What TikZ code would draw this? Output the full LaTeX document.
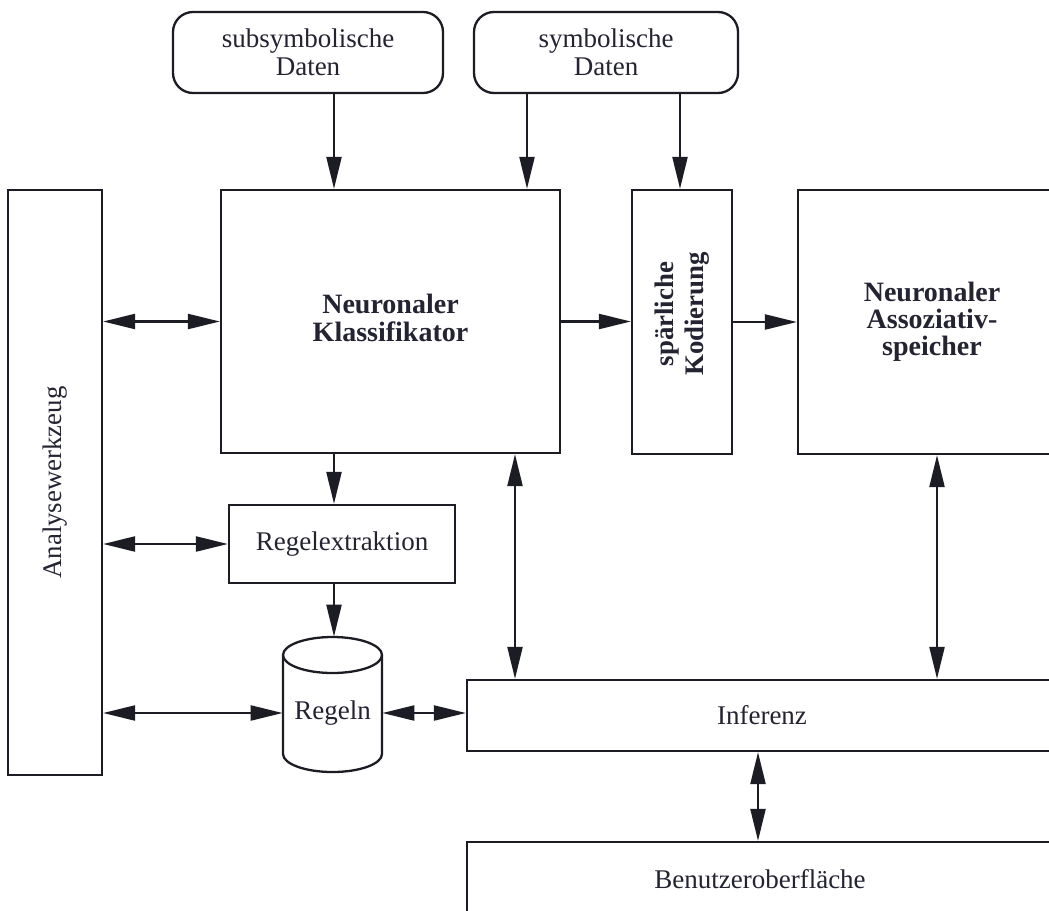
\documentclass[tikz,border=0pt]{standalone}
\usepackage{fontspec}
\setmainfont{Liberation Serif}
\usetikzlibrary{arrows.meta}
\definecolor{ink}{RGB}{28,28,36}
\definecolor{txt}{RGB}{35,35,50}
\begin{document}
\begin{tikzpicture}[x=0.5pt,y=-0.5pt,
  every node/.style={text=txt, font=\fontsize{13.5}{14}\selectfont},
  box/.style={draw=ink, line width=1.15pt, fill=white, inner sep=0pt, align=center},
  rbox/.style={box, rounded corners=10pt},
  tip/.tip={Triangle[length=16pt,width=7.5pt]},
  arr/.style={draw=ink, line width=1.15pt, -tip},
  dbl/.style={draw=ink, line width=1.15pt, tip-tip},
  bf/.style={font=\bfseries\fontsize{14}{14}\selectfont},
  cyl/.style={draw=ink, line width=1.15pt, fill=white}
]
\useasboundingbox (0,0) rectangle (1049,910);
\fill[white] (0,0) rectangle (1049,910);
\clip (0,0) rectangle (1049,910);

% nodes
\node[rbox, minimum width=135pt, minimum height=40.5pt] (sub) at (308,52.5) {subsymbolische\\Daten};
\node[rbox, minimum width=132pt, minimum height=40.5pt] (sym) at (606,52.5) {symbolische\\Daten};
\node[box, minimum width=47pt, minimum height=292.5pt] (ana) at (55,482.5) {};
\node[rotate=90, font=\fontsize{13.4}{14}\selectfont] (anatext) at (ana.center) {Analysewerkzeug};
\node[box, minimum width=169.5pt, minimum height=131.5pt] (nk) at (390.5,321.5) {};
\node[bf, align=center] (nktext) at ([yshift=2pt]nk.center) {Neuronaler\\Klassifikator};
\node[box, minimum width=50pt, minimum height=132pt] (spk) at (682,322) {};
\node[rotate=90, align=center, font=\bfseries\fontsize{13.4}{15}\selectfont] (spktext) at ([yshift=4pt]spk.center) {spärliche\\Kodierung};
\node[box, font=\bfseries\fontsize{14}{13.5}\selectfont, minimum width=134pt, minimum height=132pt] (nas) at (932,322) {Neuronaler\\Assoziativ-\\speicher};
\node[box, minimum width=113pt, minimum height=39pt] (regx) at (342,544) {Regelextraktion};

% cylinder for Regeln
\draw[cyl] (283,655) -- (283,754) arc[start angle=180, end angle=360, x radius=24.75pt, y radius=9pt] -- (382,655) arc[start angle=0, end angle=180, x radius=24.75pt, y radius=9pt] -- cycle;
\draw[ink, line width=1.15pt] (283,655) arc[start angle=180, end angle=360, x radius=24.75pt, y radius=9pt];
\node[inner sep=0pt, minimum width=49.5pt, minimum height=76pt] (regeln) at (332.5,713) {Regeln};

\node[box, minimum width=295pt, minimum height=35.5pt] (inf) at (762,715.5) {Inferenz};
\node[box, minimum width=293pt, minimum height=37pt] (ben) at (760,879) {Benutzeroberfläche};

% helper coordinates for connector positions
\coordinate (c1) at (334,0);
\coordinate (c2) at (527,0);
\coordinate (c3) at (680,0);
\coordinate (c5) at (515,0);
\coordinate (c6) at (937,0);
\coordinate (c7) at (758,0);

% connectors
\draw[arr] (sub.south -| c1) -- (nk.north -| c1);
\draw[arr] (sym.south -| c2) -- (nk.north -| c2);
\draw[arr] (sym.south -| c3) -- (spk.north -| c3);
\draw[arr] (nk.east) -- (nk.east -| spk.west);
\draw[arr] (spk.east) -- (spk.east -| nas.west);
\draw[dbl] (ana.east |- nk.west) -- (nk.west);
\draw[dbl] (ana.east |- regx.west) -- (regx.west);
\draw[dbl] (ana.east |- regeln.west) -- (regeln.west);
\draw[dbl] (regeln.east) -- (regeln.east -| inf.west);
\draw[arr] (nk.south -| c1) -- (regx.north -| c1);
\draw[arr] (regx.south -| c1) -- (regeln.north -| c1);
\draw[dbl] (nk.south -| c5) -- (inf.north -| c5);
\draw[dbl] (nas.south -| c6) -- (inf.north -| c6);
\draw[dbl] (inf.south -| c7) -- (ben.north -| c7);
\end{tikzpicture}
\end{document}
